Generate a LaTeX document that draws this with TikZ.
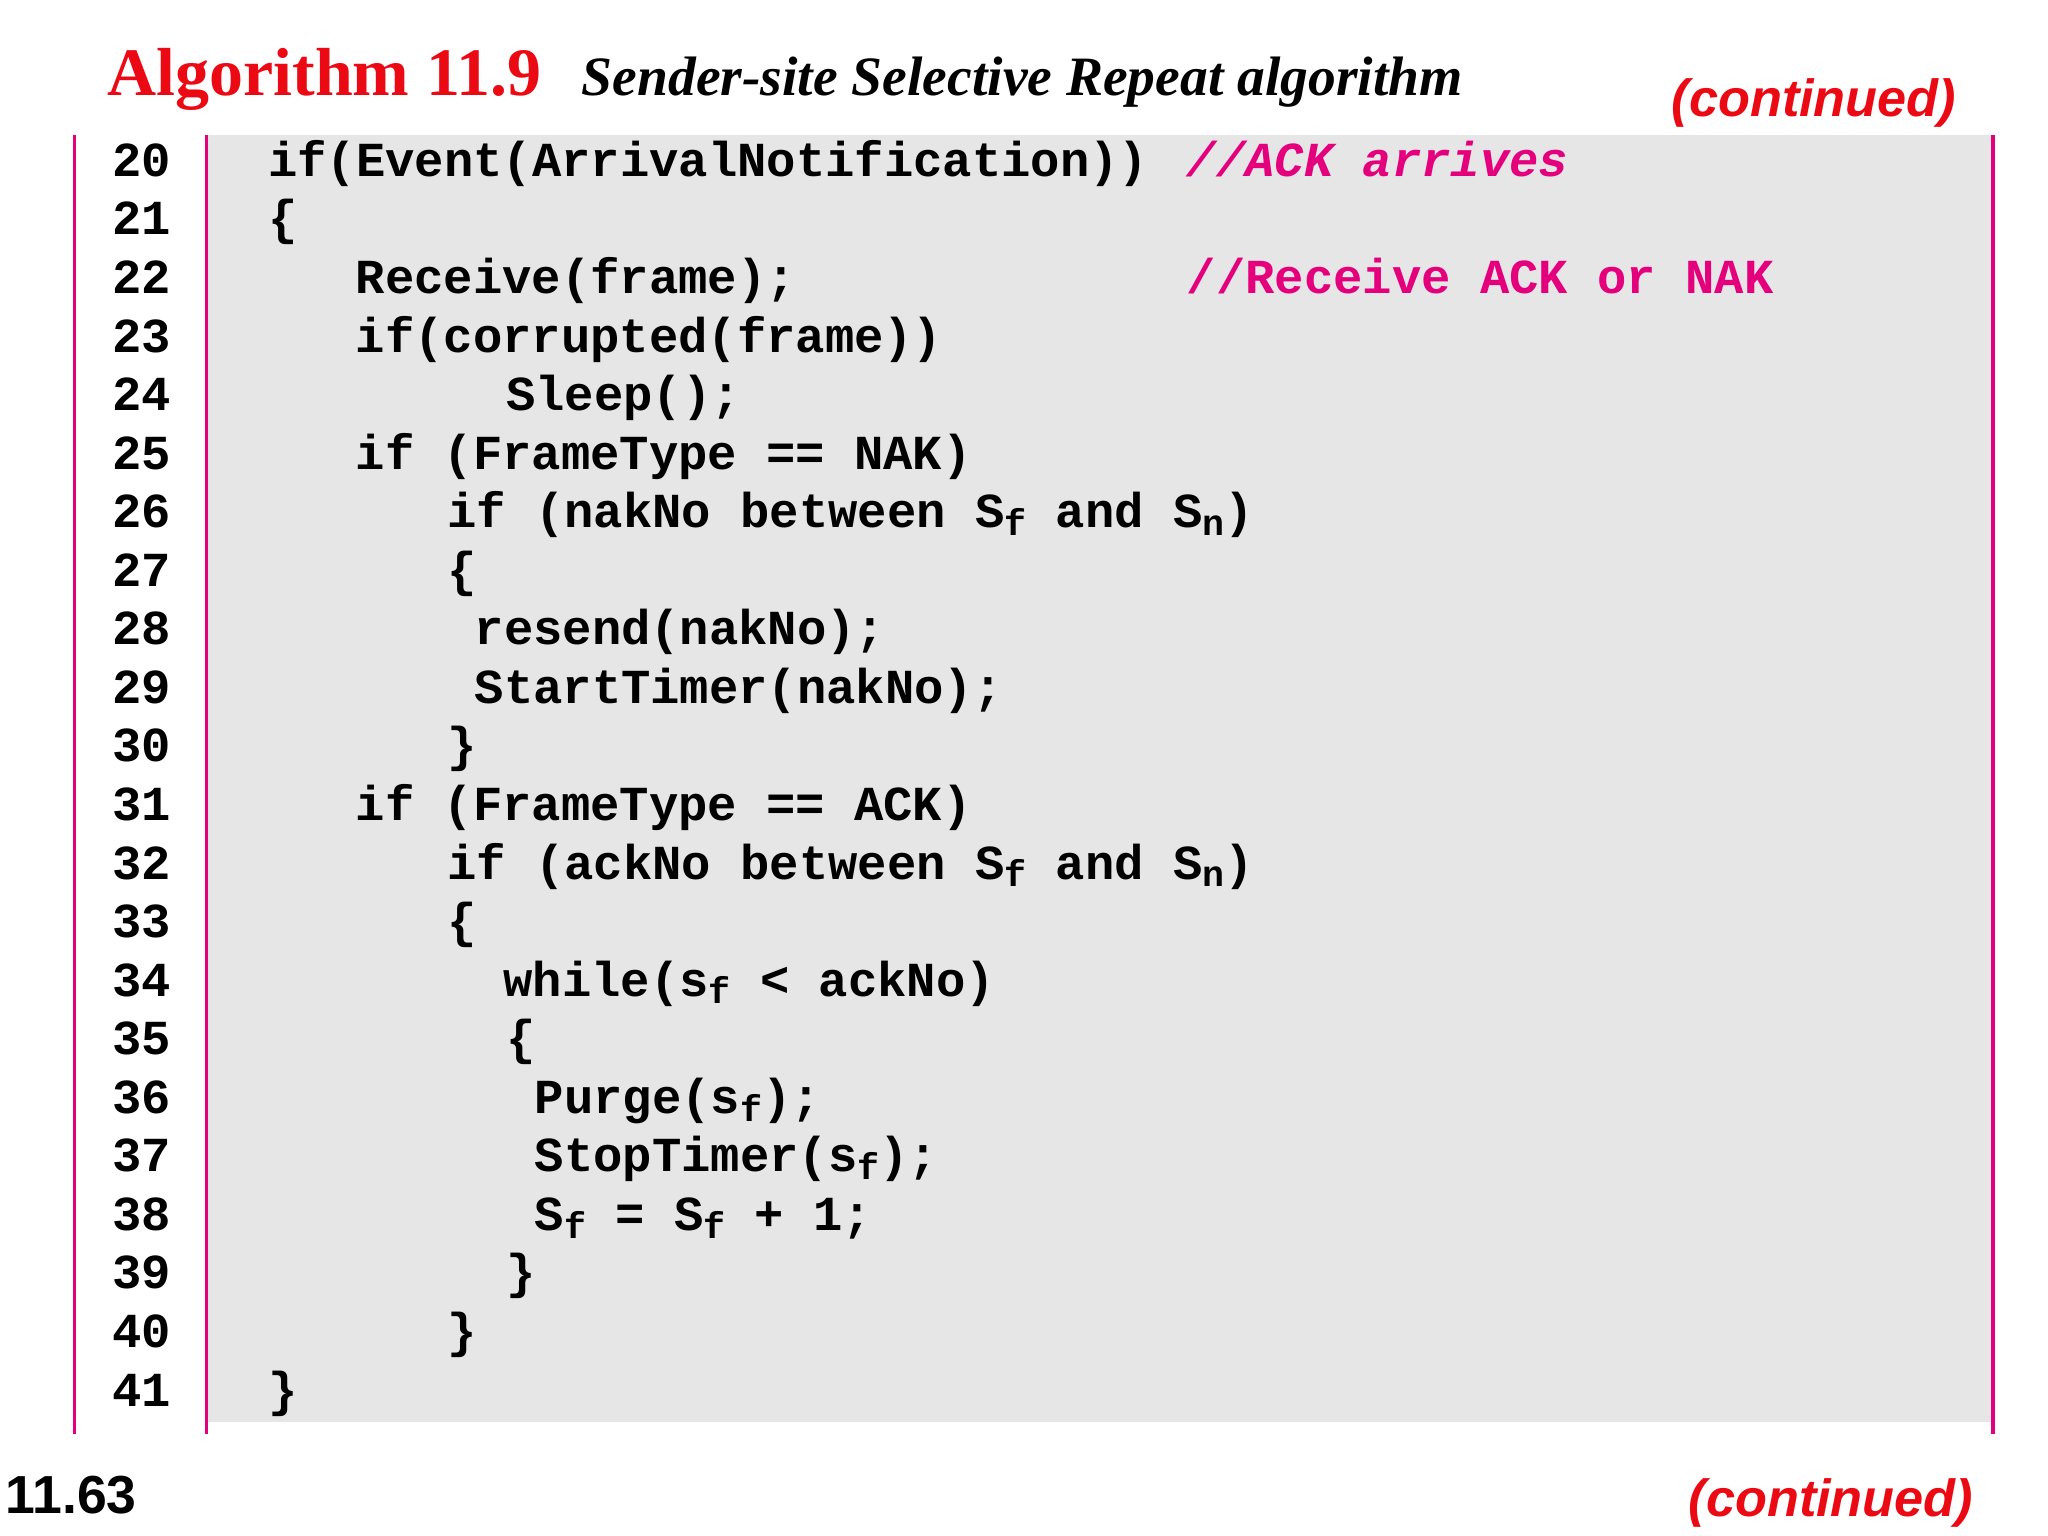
\documentclass[tikz,border=0pt]{standalone}
\usepackage{fontspec}
\setmainfont{Liberation Serif}
\setsansfont{Liberation Sans}
\setmonofont{Liberation Mono}
\definecolor{tred}{RGB}{235,10,20}
\definecolor{mag}{RGB}{228,0,124}
\definecolor{bg}{RGB}{230,230,230}
\newcommand{\sbs}[1]{\raisebox{-0.3ex}{\fontsize{28}{28}\selectfont #1}}
\tikzset{
  code/.style={anchor=base west,inner sep=0pt,font=\fontsize{37.4}{40}\selectfont\ttfamily\bfseries},
  cmt/.style={code,text=mag},
  num/.style={code},
  vbar/.style={mag,line width=2.5pt}
}
\begin{document}
\begin{tikzpicture}[x=1pt,y=-1pt]
\useasboundingbox (0,0) rectangle (1567,1175);
\fill[bg] (158,103) rectangle (1525,1088);
\coordinate (a1) at (57,103); \coordinate (a2) at (57,1097);
\coordinate (b1) at (158,103); \coordinate (b2) at (158,1097);
\coordinate (c1) at (1525,103); \coordinate (c2) at (1525,1097);
\draw[vbar] (a1)--(a2); \draw[vbar] (b1)--(b2); \draw[vbar] (c1)--(c2);
\node[anchor=base west,inner sep=0pt,text=tred,font=\fontsize{52}{52}\selectfont\bfseries] (t1) at (82,73) {Algorithm 11.9};
\node[anchor=base west,inner sep=0pt,font=\fontsize{42.5}{42}\selectfont\bfseries\itshape] (t2) at (445,73) {Sender-site Selective Repeat algorithm};
\node[anchor=base east,inner sep=0pt,text=tred,font=\fontsize{40}{40}\selectfont\sffamily\bfseries\itshape] (c1t) at (1497,89) {(continued)};
\node[anchor=base east,inner sep=0pt,text=tred,font=\fontsize{40}{40}\selectfont\sffamily\bfseries\itshape] (c2t) at (1510,1160) {(continued)};
\node[anchor=base west,inner sep=0pt,font=\fontsize{41}{41}\selectfont\sffamily\bfseries] (pg) at (4,1158) {11.63};
\foreach \n in {20,...,41}{
  \node[num] (n\n) at (86,{135+44.8*(\n-20)}) {\n};
}
\def\Y#1{{135+44.8*(#1-20)}}
\node[code] (l20) at (205,\Y{20}) {if(Event(ArrivalNotification))};
\node[cmt] (m20) at (908,\Y{20}) {\itshape //ACK arrives};
\node[code] (l21) at (205,\Y{21}) {\{};
\node[code] (l22) at (272,\Y{22}) {Receive(frame);};
\node[cmt] (m22) at (908,\Y{22}) {//Receive ACK or NAK};
\node[code] (l23) at (272,\Y{23}) {if(corrupted(frame))};
\node[code] (l24) at (387,\Y{24}) {Sleep();};
\node[code] (l25) at (272,\Y{25}) {if (FrameType == NAK)};
\node[code] (l26) at (342,\Y{26}) {if (nakNo between S\sbs{f} and S\sbs{n})};
\node[code] (l27) at (342,\Y{27}) {\{};
\node[code] (l28) at (363,\Y{28}) {resend(nakNo);};
\node[code] (l29) at (363,\Y{29}) {StartTimer(nakNo);};
\node[code] (l30) at (342,\Y{30}) {\}};
\node[code] (l31) at (272,\Y{31}) {if (FrameType == ACK)};
\node[code] (l32) at (342,\Y{32}) {if (ackNo between S\sbs{f} and S\sbs{n})};
\node[code] (l33) at (342,\Y{33}) {\{};
\node[code] (l34) at (385,\Y{34}) {while(s\sbs{f} < ackNo)};
\node[code] (l35) at (387,\Y{35}) {\{};
\node[code] (l36) at (409,\Y{36}) {Purge(s\sbs{f});};
\node[code] (l37) at (409,\Y{37}) {StopTimer(s\sbs{f});};
\node[code] (l38) at (409,\Y{38}) {S\sbs{f} = S\sbs{f} + 1;};
\node[code] (l39) at (387,\Y{39}) {\}};
\node[code] (l40) at (342,\Y{40}) {\}};
\node[code] (l41) at (205,\Y{41}) {\}};
\end{tikzpicture}
\end{document}
